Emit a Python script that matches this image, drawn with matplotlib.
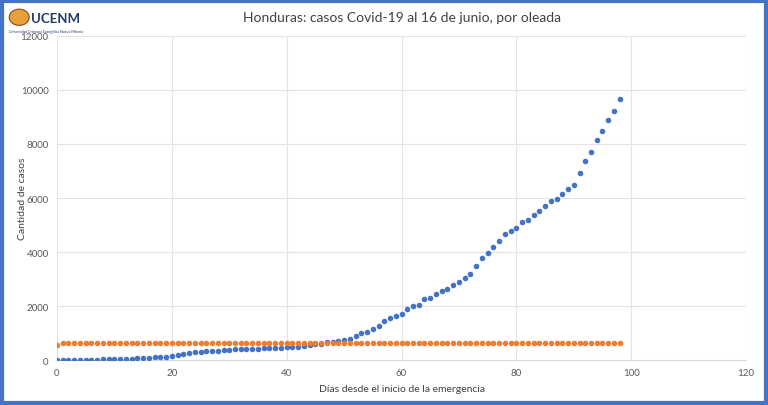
import matplotlib.pyplot as plt
from matplotlib.patches import Rectangle, Ellipse

plt.rcParams['font.family'] = ['Lato', 'DejaVu Sans']

# dias desde el inicio de la emergencia
dias = list(range(99))

# casos acumulados (serie azul)
casos = [2, 2, 3, 6, 8, 9, 9, 12, 20, 26, 30, 36, 40, 52, 62, 75, 90, 105, 118, 130,
         140, 185, 222, 247, 285, 300, 320, 333, 350, 365, 382, 392, 400, 407, 415, 425,
         432, 445, 450, 460, 470, 480, 493, 510, 540, 575, 610, 650, 680, 715, 750, 780,
         900, 990, 1030, 1150, 1270, 1455, 1570, 1630, 1715, 1875, 1988, 2055, 2255, 2315,
         2444, 2543, 2625, 2770, 2900, 3030, 3200, 3475, 3778, 3952, 4180, 4396, 4650, 4760,
         4889, 5099, 5197, 5382, 5519, 5704, 5889, 5975, 6160, 6334, 6470, 6938, 7360, 7693,
         8160, 8482, 8890, 9212, 9656]

# serie naranja (oleada)
oleada = [560] + [625] * 98

fig = plt.figure(figsize=(7.68, 4.06), dpi=100)
ax = fig.add_axes([0.0742, 0.1108, 0.8972, 0.7981])

ax.scatter(dias, casos, s=16, color='#4472C4', zorder=3, linewidths=0)
ax.scatter(dias, oleada, s=16, color='#ED7D31', zorder=3, linewidths=0)

ax.set_xlim(0, 120)
ax.set_ylim(0, 12000)
ax.set_xticks(range(0, 121, 20))
ax.set_yticks(range(0, 12001, 2000))
ax.grid(True, color='#E3E3E3', linewidth=0.8)
ax.set_axisbelow(True)
for s in ['top', 'right', 'left']:
    ax.spines[s].set_visible(False)
ax.spines['bottom'].set_color('#D9D9D9')
ax.tick_params(length=0, labelsize=7, colors='#595959', pad=6)

ax.set_title('Honduras: casos Covid-19 al 16 de junio, por oleada', fontsize=10,
             color='#404040', pad=11)
ax.set_xlabel('Días desde el inicio de la emergencia', fontsize=7.5, color='#404040')
ax.xaxis.set_label_coords(0.5, -0.075)
ax.set_ylabel('Cantidad de casos', fontsize=7.5, color='#404040')
ax.yaxis.set_label_coords(-0.044, 0.5)

# logo
fig.patches.append(Ellipse((0.025, 0.955), 0.026, 0.04, transform=fig.transFigure,
                           facecolor='#E8A13A', edgecolor='#8B4A1C', linewidth=0.8))
fig.text(0.040, 0.943, 'UCENM', fontsize=9.5, fontweight='bold', color='#1F3A6E')
fig.text(0.012, 0.918, 'Universidad Cristiana Evangélica Nuevo Milenio', fontsize=2.5,
         color='#1F3A6E')

# marco azul
fig.patches.append(Rectangle((0.003, 0.005), 0.994, 0.99, transform=fig.transFigure,
                             fill=False, edgecolor='#4472C4', linewidth=3))

fig.savefig('out.png', dpi=100)
